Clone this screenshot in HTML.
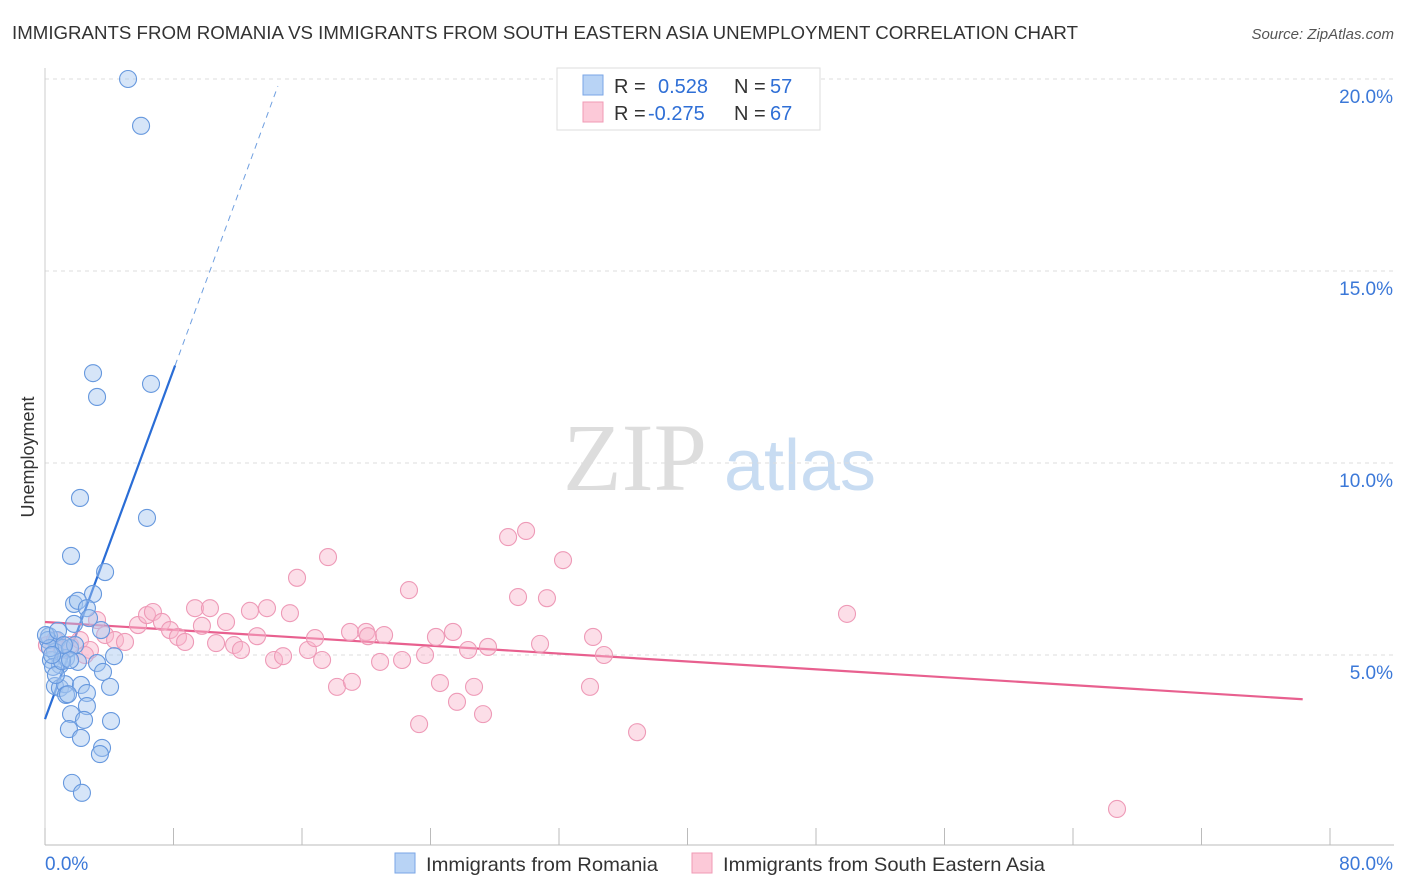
<!DOCTYPE html>
<html><head><meta charset="utf-8"><style>
body{margin:0;background:#fff;font-family:"Liberation Sans",sans-serif;}
svg{display:block}
</style></head><body>
<svg id="chart" width="1406" height="892" xmlns="http://www.w3.org/2000/svg">
<text x="12" y="39" font-size="18.5" fill="#333" textLength="1066" lengthAdjust="spacingAndGlyphs">IMMIGRANTS FROM ROMANIA VS IMMIGRANTS FROM SOUTH EASTERN ASIA UNEMPLOYMENT CORRELATION CHART</text>
<text x="1394" y="39" font-size="15" fill="#555" font-style="italic" text-anchor="end">Source: ZipAtlas.com</text>
<g>
<text x="635" y="490" font-size="96" fill="#ddd" font-family="Liberation Serif,serif" text-anchor="middle">ZIP</text>
<text x="800" y="490" font-size="72" fill="#c8dcf2" text-anchor="middle">atlas</text>
</g>
<g id="grid"></g><g id="axes"></g><g id="lines"></g><g id="pts"></g>
<text transform="translate(34,457) rotate(-90)" font-size="18" fill="#333" text-anchor="middle">Unemployment</text>
<g>
<rect x="557" y="68" width="263" height="62" fill="#fff" stroke="#ddd"/>
<rect x="583" y="75" width="20" height="20" fill="#b8d3f5" stroke="#7aa6e6"/>
<rect x="583" y="102" width="20" height="20" fill="#fcc9d8" stroke="#f09ab5"/>
<text x="614" y="93" font-size="20" fill="#333">R =</text><text x="658" y="93" font-size="20" fill="#2f6fd6">0.528</text>
<text x="734" y="93" font-size="20" fill="#333">N =</text><text x="770" y="93" font-size="20" fill="#2f6fd6">57</text>
<text x="614" y="120" font-size="20" fill="#333">R =</text><text x="648" y="120" font-size="20" fill="#2f6fd6">-0.275</text>
<text x="734" y="120" font-size="20" fill="#333">N =</text><text x="770" y="120" font-size="20" fill="#2f6fd6">67</text>
</g>
<g>
<rect x="395" y="853" width="20" height="20" fill="#b8d3f5" stroke="#7aa6e6"/>
<text x="426" y="871" font-size="19.5" fill="#333" textLength="232" lengthAdjust="spacingAndGlyphs">Immigrants from Romania</text>
<rect x="692" y="853" width="20" height="20" fill="#fcc9d8" stroke="#f09ab5"/>
<text x="723" y="871" font-size="19.5" fill="#333" textLength="322" lengthAdjust="spacingAndGlyphs">Immigrants from South Eastern Asia</text>
</g>
</svg>
<script>
const xTicks=[0,8,16,24,32,40,48,56,64,72,80];
const yTicks=[5,10,15,20];
const blueX=[5.17,5.98,2.99,6.60,3.24,2.18,6.35,1.62,3.74,2.99,1.81,2.05,2.61,2.74,1.81,3.49,0.75,1.12,0.25,0.37,0.62,0.93,1.31,1.56,4.30,3.24,3.61,2.05,0.62,0.93,1.25,2.24,4.05,2.61,1.31,1.43,2.61,1.62,2.43,4.11,1.49,2.24,3.55,3.42,1.68,2.30,0.19,0.31,0.50,0.68,1.06,0.06,0.81,1.87,1.56,1.18,0.44];
const blueY=[20.0,18.78,12.34,12.06,11.72,9.09,8.57,7.58,7.16,6.59,6.33,6.41,6.22,5.96,5.81,5.65,5.39,5.18,5.49,4.87,5.08,4.74,4.92,5.18,4.97,4.79,4.56,4.82,4.19,4.14,4.24,4.22,4.17,4.01,3.96,3.98,3.67,3.46,3.31,3.28,3.07,2.84,2.58,2.42,1.67,1.41,5.39,5.18,4.69,4.48,4.84,5.52,5.63,5.26,4.87,5.26,5.00];
const pinkX=[0.12,0.62,1.06,1.56,2.18,2.80,3.24,3.74,4.36,4.98,5.79,6.35,6.72,7.28,7.78,8.28,8.72,9.34,9.77,10.27,10.65,11.27,11.77,12.20,12.76,13.20,13.82,14.26,14.82,15.25,15.69,16.37,16.81,17.25,17.62,18.18,19.11,18.99,19.99,20.11,20.86,21.11,22.23,22.66,23.29,23.66,24.34,24.59,25.40,25.65,26.34,26.71,27.27,27.58,28.83,29.45,29.95,30.82,31.25,32.25,33.93,34.12,34.80,36.86,49.93,66.74,2.49];
const pinkY=[5.26,5.39,5.13,5.26,5.39,5.13,5.91,5.52,5.39,5.34,5.78,6.04,6.12,5.86,5.65,5.47,5.34,6.22,5.76,6.22,5.31,5.86,5.26,5.13,6.15,5.49,6.22,4.87,4.97,6.09,7.01,5.13,5.44,4.87,7.55,4.17,4.30,5.60,5.60,5.49,4.82,5.52,4.87,6.69,3.20,5.00,5.47,4.27,5.60,3.78,5.13,4.17,3.46,5.21,8.07,6.51,8.23,5.29,6.48,7.47,4.17,5.47,5.00,2.99,6.07,0.99,5.00];
const blueTrend=[3.33,1.137];
const pinkTrend=[5.86,-0.0257];
const NS='http://www.w3.org/2000/svg';
const X=v=>45+v/80*1285, Y=v=>847-v*38.4;
function mk(t,a,p){const e=document.createElementNS(NS,t);for(const k in a)e.setAttribute(k,a[k]);p.appendChild(e);return e;}
const grid=document.getElementById('grid'),axes=document.getElementById('axes'),lines=document.getElementById('lines'),pts=document.getElementById('pts');
yTicks.forEach(t=>{
 const l=mk('line',{x1:45,x2:1394,y1:Y(t),y2:Y(t),stroke:'#ddd','stroke-dasharray':'4,4'},grid);
 
 
 const tx=mk('text',{x:1393,y:Y(t)+24,'font-size':19,fill:'#3b78d8','text-anchor':'end'},axes);
 tx.textContent=t.toFixed(1)+'%';
 
 
});
const ax=mk('line',{x1:45,x2:1394,y1:845,y2:845,stroke:'#bbb'},axes);


const ay=mk('line',{x1:45,x2:45,y1:68,y2:845,stroke:'#ccc'},axes);


xTicks.forEach(t=>{
 const l=mk('line',{x1:X(t),x2:X(t),y1:828,y2:845,stroke:'#bbb'},axes);
 
 
});
[[0,45,'start'],[80,1393,'end']].forEach(([t,x,a])=>{
 const tx=mk('text',{x:x,y:870,'font-size':19,fill:'#3b78d8','text-anchor':a},axes);
 tx.textContent=t.toFixed(1)+'%';
 
 
});
function dot(x,y,fill,stroke,name){
 const c=mk('circle',{cx:X(x),cy:Y(y),r:8.5,fill:fill,stroke:stroke,'stroke-width':1.1},pts);
 
 
}
pinkX.forEach((x,i)=>dot(x,pinkY[i],'rgba(248,182,204,0.45)','#ee9ab7','sea-point'));
blueX.forEach((x,i)=>dot(x,blueY[i],'rgba(164,198,240,0.45)','#6698de','romania-point'));
const b1=mk('line',{x1:X(0),y1:Y(blueTrend[0]),x2:X(8.1),y2:Y(blueTrend[0]+blueTrend[1]*8.1),stroke:'#2a6dd6','stroke-width':2.2},lines);


const b2=mk('line',{x1:X(8.1),y1:Y(blueTrend[0]+blueTrend[1]*8.1),x2:X(14.5),y2:Y(blueTrend[0]+blueTrend[1]*14.5),stroke:'#6f9fe0','stroke-width':1,'stroke-dasharray':'6,5'},lines);


const p1=mk('line',{x1:X(0),y1:Y(pinkTrend[0]),x2:X(78.3),y2:Y(pinkTrend[0]+pinkTrend[1]*78.3),stroke:'#e8608f','stroke-width':2.2},lines);


</script>
</body></html>
